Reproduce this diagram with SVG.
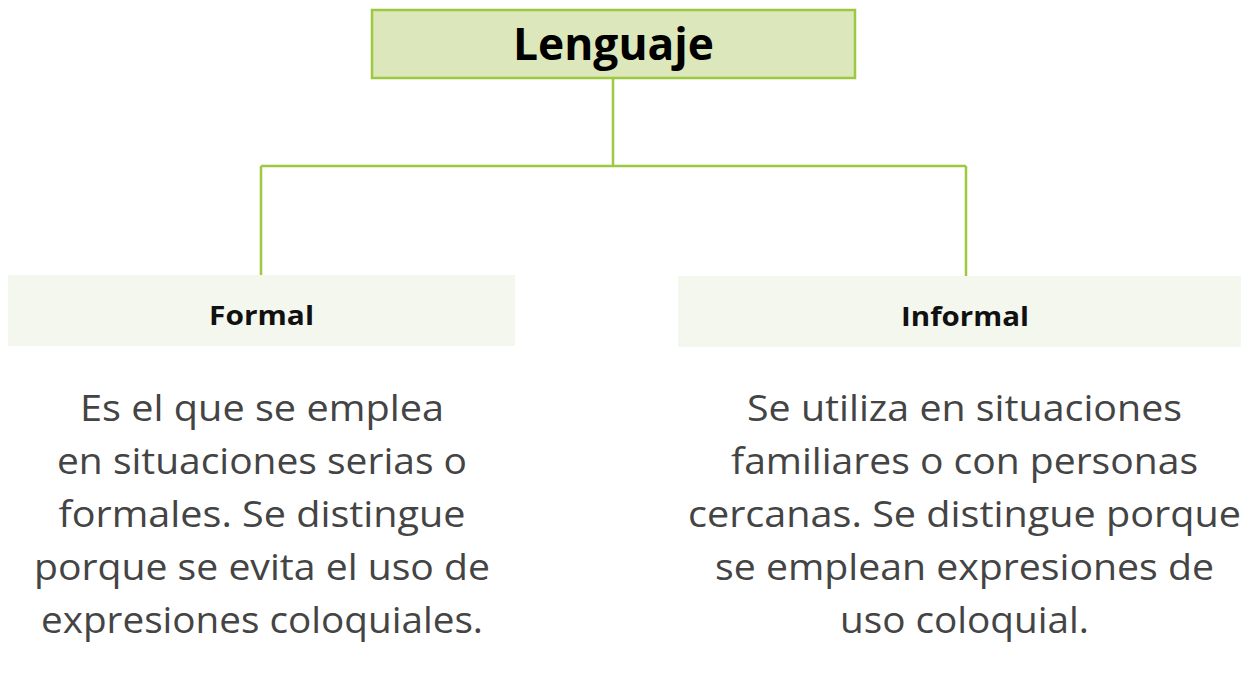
<svg xmlns="http://www.w3.org/2000/svg" width="1241" height="696" viewBox="0 0 1241 696">
<style>
.conn{fill:none;stroke:#9dc840;stroke-width:2.5}
.top{fill:#dce8bc;stroke:#9dc840;stroke-width:2.5}
.sub{fill:#f4f7ee}
.h1{font-family:"Open Sans","Liberation Sans",sans-serif;font-weight:700;font-size:44px;fill:#000;text-anchor:middle}
.h2{font-family:"Open Sans","Liberation Sans",sans-serif;font-weight:700;font-size:27px;fill:#111;text-anchor:middle}
.body{font-family:"Open Sans","Liberation Sans",sans-serif;font-weight:400;font-size:36px;fill:#444;text-anchor:middle}
</style>
<rect width="1241" height="696" fill="#fff"/>
<g id="connectors">
<path class="conn" d="M613 79V166M261 166H966M261 166V275M966 166V276"/>
</g>
<g id="lenguaje">
<rect class="top" x="372" y="10" width="483" height="68"/>
<text class="h1" x="613.5" y="60" textLength="201" lengthAdjust="spacingAndGlyphs">Lenguaje</text>
</g>
<g id="formal">
<rect class="sub" x="8" y="275" width="507" height="71"/>
<text class="h2" x="261.5" y="325" textLength="105" lengthAdjust="spacingAndGlyphs">Formal</text>
</g>
<g id="informal">
<rect class="sub" x="678" y="276" width="563" height="71"/>
<text class="h2" x="965" y="326" textLength="128" lengthAdjust="spacingAndGlyphs">Informal</text>
</g>
<g id="formal-desc">
<text class="body" x="262" y="421" textLength="364" lengthAdjust="spacingAndGlyphs">Es el que se emplea</text>
<text class="body" x="262" y="474" textLength="410" lengthAdjust="spacingAndGlyphs">en situaciones serias o</text>
<text class="body" x="262" y="527" textLength="407" lengthAdjust="spacingAndGlyphs">formales. Se distingue</text>
<text class="body" x="262" y="580" textLength="456" lengthAdjust="spacingAndGlyphs">porque se evita el uso de</text>
<text class="body" x="262" y="633" textLength="442" lengthAdjust="spacingAndGlyphs">expresiones coloquiales.</text>
</g>
<g id="informal-desc">
<text class="body" x="964.5" y="421" textLength="435" lengthAdjust="spacingAndGlyphs">Se utiliza en situaciones</text>
<text class="body" x="964.5" y="474" textLength="467" lengthAdjust="spacingAndGlyphs">familiares o con personas</text>
<text class="body" x="964.5" y="527" textLength="553" lengthAdjust="spacingAndGlyphs">cercanas. Se distingue porque</text>
<text class="body" x="964.5" y="580" textLength="499" lengthAdjust="spacingAndGlyphs">se emplean expresiones de</text>
<text class="body" x="964.5" y="633" textLength="249" lengthAdjust="spacingAndGlyphs">uso coloquial.</text>
</g>
</svg>
